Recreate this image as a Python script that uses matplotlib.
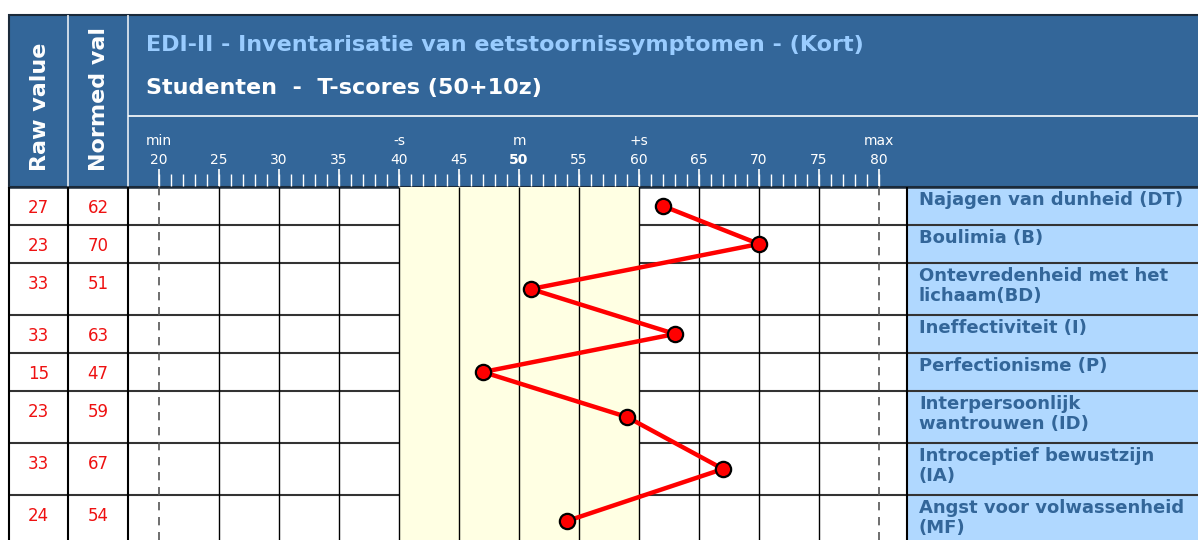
import matplotlib
matplotlib.use('Agg')
import matplotlib.pyplot as plt
from matplotlib.patches import Rectangle
import numpy as np

# ---------------- data ----------------
scales = [
    "Najagen van dunheid (DT)",
    "Boulimia (B)",
    "Ontevredenheid met het\nlichaam(BD)",
    "Ineffectiviteit (I)",
    "Perfectionisme (P)",
    "Interpersoonlijk\nwantrouwen (ID)",
    "Introceptief bewustzijn\n(IA)",
    "Angst voor volwassenheid\n(MF)",
]
raw_values = [27, 23, 33, 33, 15, 23, 33, 24]
normed_values = [62, 70, 51, 63, 47, 59, 67, 54]
tick_values = [20, 25, 30, 35, 40, 45, 50, 55, 60, 65, 70, 75, 80]
marker_values = [20, 40, 50, 60, 80]
marker_labels = ["min", "-s", "m", "+s", "max"]
band_range = [40, 60]
title = "EDI-II - Inventarisatie van eetstoornissymptomen - (Kort)"
subtitle = "Studenten  -  T-scores (50+10z)"
col_headers = ["Raw value", "Normed val"]

# ---------------- layout (pixels) ----------------
W, H = 1198, 540
left, c1, c2, c3 = 9, 68, 128, 907
head_top, head_mid, head_bot = 15, 116, 187
px_per_unit, x20 = 12.0, 159.0
row_h = np.array([52 if "\n" in s else 38 for s in scales], dtype=float)
tops = head_bot + np.concatenate([[0], np.cumsum(row_h)[:-1]])
bottoms = tops + row_h
centers = tops + row_h / 2
y_end = bottoms[-1]

HEAD = "#336699"
TITLE_C = "#99ccff"
LABEL_BG = "#b0d8ff"
LABEL_C = "#336699"
BAND = "#ffffe3"

fig = plt.figure(figsize=(W / 100, H / 100), dpi=100)
bg = fig.add_axes([0, 0, 1, 1])
bg.set_xlim(0, W)
bg.set_ylim(H, 0)
bg.axis("off")

# header
bg.add_patch(Rectangle((left, head_top), W - left + 5, head_bot - head_top,
                       fc=HEAD, ec="#1b2a3a", lw=1.5, zorder=1))
bg.vlines([c1, c2], head_top, head_bot, color="#e8eef5", lw=1.2, zorder=2)
bg.hlines(head_mid, c2, W, color="white", lw=1.2, zorder=2)

bg.text(146, 45, title, color=TITLE_C, fontsize=16, fontweight="bold",
        va="center", ha="left", zorder=3)
bg.text(146, 88, subtitle, color="white", fontsize=16, fontweight="bold",
        va="center", ha="left", zorder=3)
for xc, t in zip([(left + c1) / 2, (c1 + c2) / 2], col_headers):
    bg.text(xc + 1, 171, t, rotation=90, color="white", fontsize=16,
            fontweight="bold", ha="center", va="bottom", zorder=3)

# body backgrounds
bg.add_patch(Rectangle((left, head_bot), c3 - left, y_end - head_bot,
                       fc="white", ec="none", zorder=0.5))
bg.add_patch(Rectangle((c3, head_bot), W - c3 + 5, y_end - head_bot,
                       fc=LABEL_BG, ec="none", zorder=0.5))

# plot axes over the scale column
x_lo = 20 + (c2 - x20) / px_per_unit
x_hi = 20 + (c3 - x20) / px_per_unit
ax = fig.add_axes([c2 / W, (H - y_end) / H, (c3 - c2) / W, (y_end - head_top) / H])
ax.set_xlim(x_lo, x_hi)
ax.set_ylim(y_end, head_top)
ax.axis("off")
ax.patch.set_alpha(0)

ax.add_patch(Rectangle((band_range[0], head_bot), band_range[1] - band_range[0],
                       y_end - head_bot, fc=BAND, ec="none", zorder=1))
inner = [v for v in tick_values if v not in (tick_values[0], tick_values[-1])]
ax.vlines(inner, head_bot, y_end, color="black", lw=1, zorder=2)
ax.vlines([tick_values[0], tick_values[-1]], head_bot, y_end, color="#555555",
          lw=1.2, linestyles=(0, (5, 4)), zorder=2)

# header scale
ax.vlines(np.arange(tick_values[0], tick_values[-1] + 1), 174, head_bot - 1,
          color="white", lw=1, zorder=3)
ax.vlines(tick_values, 169, head_bot - 1, color="white", lw=1.2, zorder=3)
for v in tick_values:
    ax.text(v, 160, str(v), color="white", fontsize=10, ha="center", va="center",
            fontweight="bold" if v == 50 else "normal", zorder=4)
for v, t in zip(marker_values, marker_labels):
    ax.text(v, 141, t, color="white", fontsize=10, ha="center", va="center", zorder=4)

# profile line
ax.plot(normed_values, centers, color="red", lw=3.2, marker="o", ms=11,
        mfc="red", mec="black", mew=1.6, zorder=6, clip_on=False)

# grid lines of the table
bg.hlines(bottoms, left, W, color="#333333", lw=1.5, zorder=3)
bg.hlines(head_bot, left, W, color="#1b2a3a", lw=1.8, zorder=3)
bg.vlines([left, c1, c2, c3], head_bot, y_end, color="black", lw=1.5, zorder=3)

# cell texts
for i in range(len(scales)):
    bg.text((left + c1) / 2, tops[i] + 21, str(raw_values[i]), color="#ee1111",
            fontsize=12, ha="center", va="center", zorder=4)
    bg.text((c1 + c2) / 2, tops[i] + 21, str(normed_values[i]), color="#ee1111",
            fontsize=12, ha="center", va="center", zorder=4)
    bg.text(c3 + 12, tops[i] + 4, scales[i], color=LABEL_C, fontsize=13,
            fontweight="bold", ha="left", va="top", linespacing=1.12, zorder=4)

fig.savefig("out.png", dpi=100)
